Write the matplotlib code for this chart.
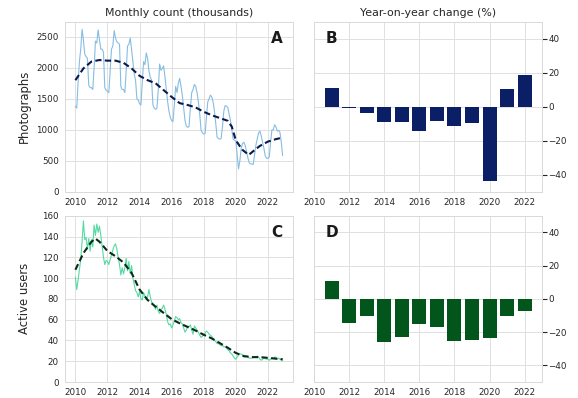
import matplotlib
matplotlib.use("Agg")
import matplotlib.pyplot as plt
import numpy as np
import seaborn as sns

# monthly values, Jan 2010 .. Dec 2022 (one row per year)
photos = [
    1380, 1350, 1750, 2100, 2300, 2620, 2450, 2220, 2180, 2150, 1720, 1680,  # 2010
    1680, 1650, 2000, 2430, 2400, 2610, 2450, 2300, 2300, 2250, 1680, 1640,  # 2011
    1620, 1600, 1950, 2300, 2350, 2600, 2480, 2420, 2400, 2380, 1700, 1650,  # 2012
    1650, 1600, 1950, 2350, 2380, 2480, 2300, 2100, 1900, 1800, 1500, 1480,  # 2013
    1420, 1400, 1750, 2100, 2050, 2240, 2150, 1950, 1850, 1800, 1400, 1350,  # 2014
    1330, 1350, 1650, 2060, 1960, 1990, 2030, 1850, 1650, 1450, 1300, 1200,  # 2015
    1150, 1130, 1400, 1700, 1600, 1750, 1830, 1700, 1550, 1350, 1150, 1060,  # 2016
    1040, 1050, 1350, 1600, 1650, 1730, 1700, 1600, 1450, 1250, 1000, 950,   # 2017
    930, 940, 1200, 1450, 1500, 1560, 1530, 1450, 1300, 1100, 880, 860,      # 2018
    850, 860, 1050, 1300, 1390, 1380, 1360, 1250, 1150, 1000, 850, 830,      # 2019
    820, 600, 370, 500, 700, 780, 800, 750, 650, 550, 470, 450,              # 2020
    450, 440, 600, 750, 850, 950, 980, 900, 800, 700, 580, 540,              # 2021
    540, 560, 800, 1000, 1000, 1080, 1050, 980, 990, 960, 800, 585,          # 2022
]

users = [
    101, 89, 98, 108, 118, 135, 155, 137, 139, 128, 138, 126,   # 2010
    137, 130, 151, 141, 152, 144, 150, 141, 131, 120, 113, 117,  # 2011
    116, 113, 118, 122, 127, 131, 133, 128, 120, 113, 103, 110,  # 2012
    104, 110, 119, 107, 116, 104, 112, 100, 94, 88, 86, 82,      # 2013
    87, 80, 79, 86, 83, 80, 82, 89, 82, 77, 75, 73,              # 2014
    70, 74, 68, 66, 70, 71, 74, 70, 65, 58, 55, 56,              # 2015
    52, 55, 59, 63, 62, 60, 61, 57, 56, 52, 48, 50,              # 2016
    54, 53, 55, 50, 46, 54, 52, 50, 48, 45, 43, 44,              # 2017
    46, 47, 49, 48, 46, 45, 44, 42, 40, 39, 37, 37,              # 2018
    36, 35, 35, 34, 34, 33, 31, 30, 28, 27, 25, 23,              # 2019
    22, 24, 26, 27, 27, 26, 24, 24, 25, 24, 23, 23,              # 2020
    23, 24, 24, 24, 25, 24, 22, 21, 22, 23, 23, 22,              # 2021
    22, 21, 22, 23, 23, 24, 24, 22, 23, 22, 21, 20.5,            # 2022
]

# smoothed trend
trend_photos_x = [2010.0, 2010.5, 2011.0, 2011.5, 2012.0, 2012.5, 2013.0, 2013.5,
                  2014.0, 2014.5, 2015.0, 2015.5, 2016.0, 2016.5, 2017.0, 2017.5,
                  2018.0, 2018.5, 2019.0, 2019.5, 2019.75, 2020.0, 2020.4, 2020.8,
                  2021.2, 2021.5, 2022.0, 2022.5, 2022.92]
trend_photos = [1800, 1990, 2100, 2125, 2115, 2115, 2080, 1990,
                1870, 1800, 1750, 1640, 1530, 1430, 1400, 1360,
                1290, 1235, 1190, 1145, 1050, 830, 680, 595,
                680, 740, 810, 850, 875]

trend_users_x = [2010.0, 2010.5, 2011.0, 2011.25, 2011.5, 2012.0, 2012.5, 2013.0,
                 2013.5, 2014.0, 2014.5, 2015.0, 2015.5, 2016.0, 2016.5, 2017.0,
                 2017.5, 2018.0, 2018.5, 2019.0, 2019.5, 2020.0, 2020.5, 2021.0,
                 2021.5, 2022.0, 2022.5, 2022.92]
trend_users = [108, 124, 135, 138, 135, 126, 121, 115,
               105, 89, 79, 72.5, 66.5, 60.5, 56.5, 53,
               49.5, 45.5, 42, 37.5, 33, 28, 25, 24,
               24, 23.3, 22.5, 22]

# year-on-year change (%)
yoy_years = list(range(2011, 2023))
yoy_photos = [11.3, -0.8, -3.9, -8.7, -8.7, -14.3, -8.3, -11.2, -9.3, -43.8, 10.7, 18.6]
yoy_users = [10.6, -14.5, -10.4, -25.7, -23.0, -15.1, -17.0, -25.1, -24.9, -23.8, -10.0, -7.0]

sns.set_style("whitegrid")
plt.rcParams["font.family"] = ["DejaVu Sans"]
plt.rcParams["xtick.labelsize"] = 6.3
plt.rcParams["ytick.labelsize"] = 6.3

months = 2010 + np.arange(len(photos)) / 12

fig = plt.figure(figsize=(5.78, 3.98), dpi=100)
ax_a = fig.add_axes([0.1125, 0.518, 0.3945, 0.427])
ax_b = fig.add_axes([0.5433, 0.518, 0.3945, 0.427])
ax_c = fig.add_axes([0.1125, 0.04, 0.3945, 0.418])
ax_d = fig.add_axes([0.5433, 0.04, 0.3945, 0.418])

ax_a.plot(months, photos, color="#86bde3", lw=0.8)
ax_a.plot(trend_photos_x, trend_photos, color="#0b1a4a", lw=1.5, ls=(0, (3, 1.6)))
ax_a.set_ylim(0, 2740)
ax_a.set_yticks(range(0, 2501, 500))

ax_c.plot(months, users, color="#55d9a2", lw=0.8)
ax_c.plot(trend_users_x, trend_users, color="#0b2a18", lw=1.5, ls=(0, (3, 1.6)))
ax_c.set_ylim(0, 160)
ax_c.set_yticks(range(0, 161, 20))

ax_b.bar(yoy_years, yoy_photos, width=0.8, color="#0b1f66", linewidth=0)
ax_d.bar(yoy_years, yoy_users, width=0.8, color="#03561b", linewidth=0)

for ax in (ax_b, ax_d):
    ax.set_ylim(-50, 50)
    ax.set_yticks([-40, -20, 0, 20, 40])
    ax.yaxis.tick_right()

for ax in (ax_a, ax_b, ax_c, ax_d):
    ax.set_xticks(range(2010, 2023, 2))
    ax.tick_params(axis="both", pad=1, colors=".15")
    ax.grid(color=".88", lw=0.7)
    for s in ax.spines.values():
        s.set_color(".85")
        s.set_linewidth(0.7)

ax_a.set_title("Monthly count (thousands)", fontsize=7.9, color=".15", pad=4)
ax_b.set_title("Year-on-year change (%)", fontsize=7.9, color=".15", pad=4)
ax_a.set_ylabel("Photographs", fontsize=8.4, color=".15", labelpad=4)
ax_c.set_ylabel("Active users", fontsize=8.4, color=".15", labelpad=8)

ax_a.text(0.955, 0.945, "A", transform=ax_a.transAxes, ha="right", va="top",
          fontsize=11, fontweight="bold", color=".1")
ax_b.text(0.05, 0.945, "B", transform=ax_b.transAxes, ha="left", va="top",
          fontsize=11, fontweight="bold", color=".1")
ax_c.text(0.955, 0.945, "C", transform=ax_c.transAxes, ha="right", va="top",
          fontsize=11, fontweight="bold", color=".1")
ax_d.text(0.05, 0.945, "D", transform=ax_d.transAxes, ha="left", va="top",
          fontsize=11, fontweight="bold", color=".1")

fig.savefig("out.png", dpi=100)
plt.close(fig)
